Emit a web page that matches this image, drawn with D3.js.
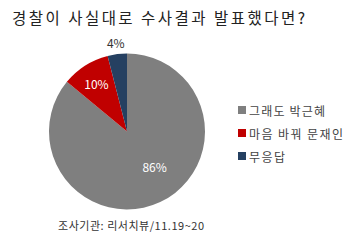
<!DOCTYPE html>
<html><head><meta charset="utf-8">
<script src="https://cdn.jsdelivr.net/npm/d3@7"></script>
<style>body{margin:0;background:#fff}svg{display:block}text{font-family:"Noto Sans CJK KR","Noto Sans",sans-serif}</style>
</head><body>
<svg id="c" width="354" height="244"></svg>
<script>
const categories = ["그래도 박근혜", "마음 바꿔 문재인", "무응답"];
const values = [86, 10, 4];
const colors = ["#7f7f7f", "#c00000", "#254061"];
const title = "경찰이 사실대로 수사결과 발표했다면?";
const source = "조사기관: 리서치뷰/11.19~20";

const svg = d3.select("#c");
const W = 354, H = 244;
svg.append("rect").attr("width", W).attr("height", H).attr("fill", "#fff");

svg.append("text").attr("x", 12).attr("y", 24).attr("font-size", 15.5).attr("fill", "#222")
  .attr("textLength", 293).attr("lengthAdjust", "spacing").text(title);

const cx = 127, cy = 131.5, r = 78;
const pie = d3.pie().sort(null).value(d => d)(values);
const arc = d3.arc().innerRadius(0).outerRadius(r);
const g = svg.append("g").attr("transform", `translate(${cx},${cy})`);
g.selectAll("path").data(pie).join("path").attr("d", arc).attr("fill", (d, i) => colors[i]);

const labelR = [0.5, 0.73, 1.15];
const labelDx = [11, 0, 0];
g.selectAll("text.lbl").data(pie).join("text").attr("class", "lbl")
  .attr("transform", (d, i) => {
    const p = d3.arc().innerRadius(r * labelR[i]).outerRadius(r * labelR[i]).centroid(d);
    return `translate(${p[0] + labelDx[i]},${p[1]})`;
  })
  .attr("text-anchor", "middle").attr("dominant-baseline", "central")
  .attr("font-size", 12).attr("fill", (d, i) => i === 2 ? "#333" : "#fff")
  .text(d => d.data + "%");

const legendLen = [76, 94, 36];
const lg = svg.append("g");
const ly = d3.scalePoint().domain(categories).range([110, 156]);
categories.forEach((c, i) => {
  lg.append("rect").attr("x", 238).attr("y", ly(c) - 4).attr("width", 8).attr("height", 8).attr("fill", colors[i]);
  lg.append("text").attr("x", 249).attr("y", ly(c)).attr("dominant-baseline", "central")
    .attr("font-size", 12).attr("fill", "#444")
    .attr("textLength", legendLen[i]).attr("lengthAdjust", "spacing").text(c);
});

svg.append("text").attr("x", 58).attr("y", 225).attr("dominant-baseline", "central")
  .attr("font-size", 11).attr("fill", "#333")
  .attr("textLength", 146).attr("lengthAdjust", "spacing").text(source);
</script>
</body></html>
